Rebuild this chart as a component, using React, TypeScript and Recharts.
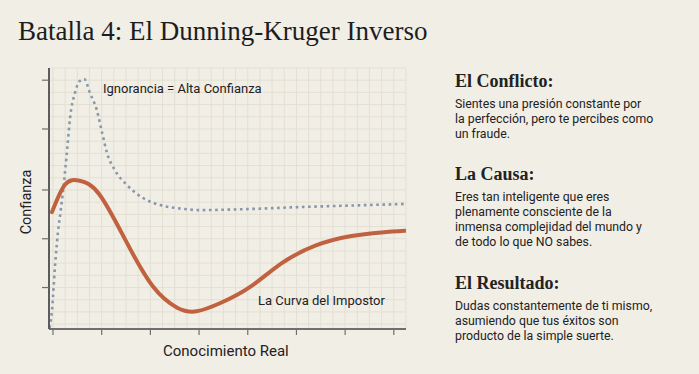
import React from "react";
import { LineChart, Line, XAxis, YAxis, CartesianGrid } from "recharts";

// Blue dotted curve: "Ignorancia = Alta Confianza"
const blueX = [-0.07, -0.06, -0.02, 0.04, 0.1, 0.16, 0.23, 0.29, 0.35, 0.45, 0.55, 0.64, 0.76, 0.9, 1.01, 1.11, 1.27, 1.52, 1.85, 2.2, 2.55, 3.02, 4.05, 5.07, 6.1, 7.21];
const blueY = [-0.3, -0.07, 1.16, 4.68, 7.47, 9.35, 11.8, 14.27, 16.9, 18.94, 19.93, 20.1, 18.94, 17.55, 15.67, 14.03, 12.63, 11.4, 10.34, 9.76, 9.51, 9.35, 9.44, 9.6, 9.72, 9.85];

// Orange curve: "La Curva del Impostor"
const orangeX = [-0.02, 0.25, 0.55, 0.95, 1.5, 2.05, 2.55, 2.95, 3.45, 4.05, 4.7, 5.4, 6.1, 6.75, 7.23];
const orangeY = [9.19, 11.45, 11.75, 10.65, 6.8, 3.1, 1.35, 1.05, 1.75, 3.05, 5.0, 6.45, 7.2, 7.52, 7.65];

const xTicks = [0, 1, 2, 3, 4, 5, 6, 7];
const yTicks = [3, 7, 11, 16, 20];
const xGrid = Array.from({ length: 30 }, (_, i) => i * 0.25);
const yGrid = Array.from({ length: 22 }, (_, i) => i);

const blueData = blueX.map((x, i) => ({ x, y: blueY[i] }));
const orangeData = orangeX.map((x, i) => ({ x, y: orangeY[i] }));

const title = "Batalla 4: El Dunning-Kruger Inverso";
const sections = [
  { head: "El Conflicto:", lines: ["Sientes una presión constante por", "la perfección, pero te percibes como", "un fraude."] },
  { head: "La Causa:", lines: ["Eres tan inteligente que eres", "plenamente consciente de la", "inmensa complejidad del mundo y", "de todo lo que NO sabes."] },
  { head: "El Resultado:", lines: ["Dudas constantemente de ti mismo,", "asumiendo que tus éxitos son", "producto de la simple suerte."] },
];
const sectionTops = [70, 163, 272];

const SERIF = "'Liberation Serif', 'DejaVu Serif', serif";
const SANS = "Roboto, 'Noto Sans', sans-serif";

export default function App() {
  return (
    <div style={{ position: "absolute", left: 0, top: 0, width: 699, height: 374, background: "#f1eee6", overflow: "hidden" }}>
      <div style={{ position: "absolute", left: 18, top: 16, fontFamily: SERIF, fontSize: 27, color: "#1d1d1d", whiteSpace: "nowrap", lineHeight: "30px" }}>{title}</div>
      <LineChart width={699} height={374} data={orangeData} margin={{ top: 68, left: 0, right: 293, bottom: 0 }} style={{ position: "absolute", left: 0, top: 0 }}>
        <CartesianGrid stroke="#e3dfd3" strokeWidth={1} verticalValues={xGrid.concat([7.25])} horizontalValues={yGrid} />
        <XAxis type="number" dataKey="x" domain={[-0.082, 7.25]} ticks={xTicks} height={45} tickSize={6} tickFormatter={() => ""} axisLine={{ stroke: "#6f6f6f", strokeWidth: 2 }} tickLine={{ stroke: "#6f6f6f", strokeWidth: 1.2 }} allowDataOverflow />
        <YAxis type="number" dataKey="y" domain={[-0.4, 21]} ticks={yTicks} width={49} tickSize={7} tickFormatter={() => ""} axisLine={{ stroke: "#5c5c5c", strokeWidth: 2 }} tickLine={{ stroke: "#6f6f6f", strokeWidth: 1.2 }} allowDataOverflow />
        <Line data={blueData} dataKey="y" type="monotone" stroke="#8797ac" strokeWidth={2.6} strokeDasharray="2.6 3.6" dot={false} isAnimationActive={false} />
        <Line data={orangeData} dataKey="y" type="natural" stroke="#c0623f" strokeWidth={4} strokeLinecap="round" dot={false} isAnimationActive={false} />
      </LineChart>
      <div style={{ position: "absolute", left: 103, top: 81, fontFamily: SANS, fontSize: 13, color: "#222", whiteSpace: "nowrap" }}>Ignorancia = Alta Confianza</div>
      <div style={{ position: "absolute", left: 258, top: 293, fontFamily: SANS, fontSize: 13, color: "#222", whiteSpace: "nowrap" }}>La Curva del Impostor</div>
      <div style={{ position: "absolute", left: 163, top: 342, fontFamily: SANS, fontSize: 15, color: "#222", whiteSpace: "nowrap" }}>Conocimiento Real</div>
      <div style={{ position: "absolute", left: 26, top: 202, transform: "translate(-50%, -50%) rotate(-90deg)", fontFamily: SANS, fontSize: 14.5, color: "#222", whiteSpace: "nowrap" }}>Confianza</div>
      {sections.map((s, i) => (
        <div key={i} style={{ position: "absolute", left: 455, top: sectionTops[i], width: 240 }}>
          <div style={{ fontFamily: SERIF, fontWeight: 700, fontSize: 18, color: "#222", lineHeight: "22px", marginBottom: 5 }}>{s.head}</div>
          {s.lines.map((l, j) => (
            <div key={j} style={{ fontFamily: SANS, fontSize: 12.3, color: "#222", lineHeight: "15px", whiteSpace: "nowrap" }}>{l}</div>
          ))}
        </div>
      ))}
    </div>
  );
}
